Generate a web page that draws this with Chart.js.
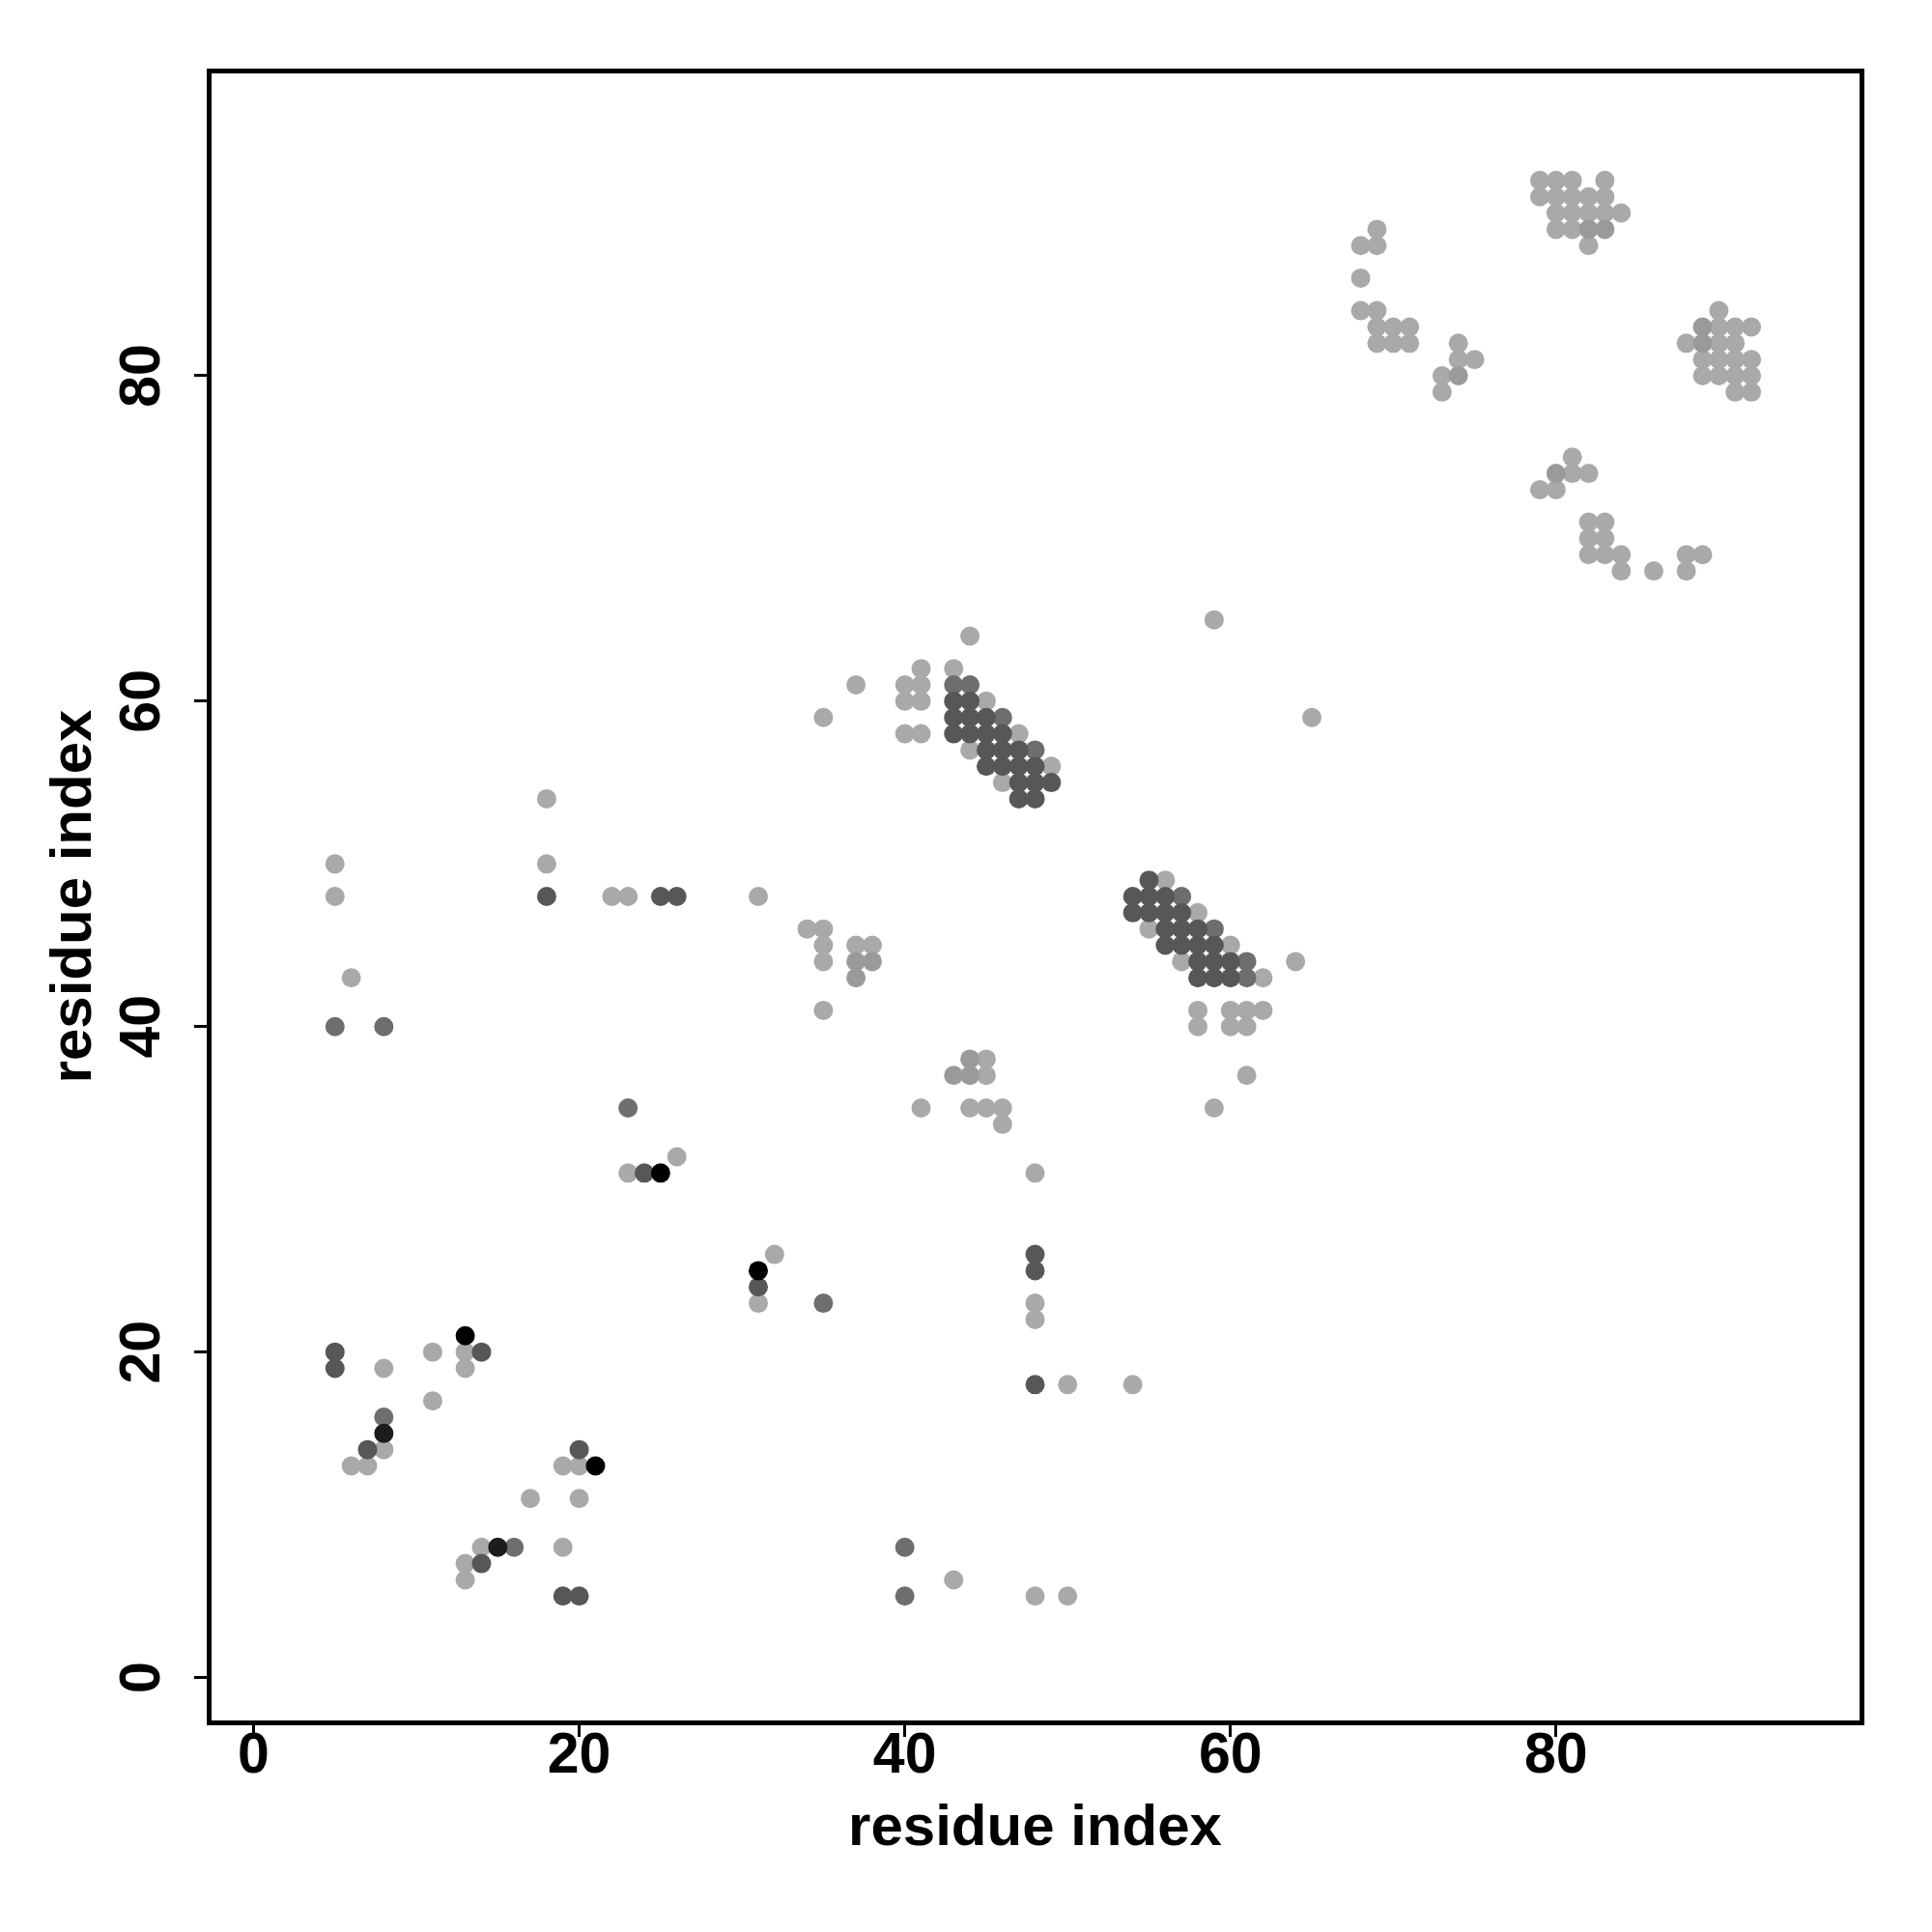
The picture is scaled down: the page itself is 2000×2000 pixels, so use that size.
<!DOCTYPE html>
<html>
<head>
<meta charset="utf-8">
<script src="https://cdn.jsdelivr.net/npm/chart.js@4"></script>
<style>
  body { margin: 0; background: #ffffff; }
  canvas { display: block; }
</style>
</head>
<body>
<canvas id="contactMap" width="2000" height="2000"></canvas>
<script>
// contact pairs [residue i, residue j], grouped by shade
const lightPoints = [
  [8,19],[19,8],[11,20],[20,11],[13,20],[20,13],[13,19],[19,13],[11,17],[17,11],[8,14],[14,8],
  [6,13],[13,6],[7,13],[13,7],
  [5,50],[50,5],[5,48],[48,5],[6,43],[43,6],[18,54],[54,18],[18,50],[50,18],[22,48],[48,22],
  [23,48],[48,23],[23,31],[31,23],[26,32],[32,26],[31,48],[48,31],
  [34,46],[46,34],[35,46],[46,35],[35,45],[45,35],[35,44],[44,35],[37,45],[45,37],[38,45],[45,38],
  [35,41],[41,35],
  [35,59],[59,35],[37,61],[61,37],[40,61],[61,40],[41,61],[61,41],[40,60],[60,40],[41,60],[60,41],
  [40,58],[58,40],[41,58],[58,41],[41,62],[62,41],[43,62],[62,43],[44,64],[64,44],[59,65],[65,59],
  [45,60],[60,45],[47,58],[58,47],[44,57],[57,44],[49,56],[56,49],[46,55],[55,46],
  [68,88],[88,68],[69,88],[88,69],[69,89],[89,69],[68,86],[86,68],[68,84],[84,68],[69,84],[84,69],
  [69,83],[83,69],[70,83],[83,70],[71,83],[83,71],[69,82],[82,69],[70,82],[82,70],[71,82],[82,71],
  [74,82],[82,74],[74,81],[81,74],[75,81],[81,75],[73,80],[80,73],[73,79],[79,73],
  [79,92],[92,79],[80,92],[92,80],[81,92],[92,81],[83,92],[92,83],
  [79,91],[91,79],[80,91],[91,80],[81,91],[91,81],[82,91],[91,82],[83,91],[91,83],
  [80,90],[90,80],[81,90],[90,81],[82,90],[90,82],[83,90],[90,83],[84,90],[90,84],
  [80,89],[89,80],[81,89],[89,81],[82,88],[88,82]
];
const midLightPoints = [
  [37,44],[44,37],[37,43],[43,37],[38,44],[44,38],[74,80],[80,74],[89,83],[83,89],[89,82],[82,89]
];
const mediumPoints = [
  [8,16],[16,8],[5,40],[40,5],[8,40],[40,8],[23,35],[35,23],
  [43,61],[61,43],[44,61],[61,44],[46,59],[59,46],[48,57],[57,48]
];
const darkPoints = [
  [5,20],[20,5],[5,19],[19,5],[7,14],[14,7],[14,20],[20,14],[18,48],[48,18],
  [25,48],[48,25],[26,48],[48,26],[24,31],[31,24],
  [43,60],[60,43],[44,60],[60,44],[43,59],[59,43],[44,59],[59,44],[45,59],[59,45],
  [43,58],[58,43],[44,58],[58,44],[45,58],[58,45],[46,58],[58,46],
  [45,57],[57,45],[46,57],[57,46],[47,57],[57,47],
  [45,56],[56,45],[46,56],[56,46],[47,56],[56,47],[48,56],[56,48],
  [47,55],[55,47],[48,55],[55,48],[49,55],[55,49],[47,54],[54,47],[48,54],[54,48]
];
const nearBlackPoints = [[8,15],[15,8]];
const blackPoints = [[13,21],[21,13],[25,31],[31,25]];

const tickValues = [0, 20, 40, 60, 80];
const axisMin = -2.76;
const axisMax = 98.76;

const fontFamily = '"Liberation Sans", Arial, Helvetica, sans-serif';

function toXY(pairs) {
  return pairs.map(p => ({ x: p[0], y: p[1] }));
}

function group(label, pairs, color) {
  return {
    label: label,
    data: toXY(pairs),
    backgroundColor: color,
    borderWidth: 0,
    pointRadius: 10,
    pointHoverRadius: 10
  };
}

const fixedTicks = scale => {
  scale.ticks = tickValues.map(v => ({ value: v }));
};

const frameAxis = (position, size) => ({
  type: 'linear',
  position: position,
  min: axisMin,
  max: axisMax,
  ticks: { display: false },
  grid: { display: false, lineWidth: 5 },
  border: { display: true, color: '#000', width: 5 },
  afterFit: scale => {
    if (scale.isHorizontal()) scale.height = size; else scale.width = size;
  }
});

const ctx = document.getElementById('contactMap').getContext('2d');
const contactChart = new Chart(ctx, {
  type: 'scatter',
  data: {
    datasets: [
      group('black', blackPoints, '#000000'),
      group('near black', nearBlackPoints, '#1c1c1c'),
      group('dark', darkPoints, '#575757'),
      group('medium', mediumPoints, '#6e6e6e'),
      group('mid light', midLightPoints, '#9a9a9a'),
      group('light', lightPoints, '#a9a9a9')
    ]
  },
  options: {
    responsive: false,
    animation: false,
    devicePixelRatio: 1,
    layout: { padding: 0 },
    plugins: {
      legend: { display: false },
      tooltip: { enabled: false }
    },
    scales: {
      x: {
        type: 'linear',
        position: 'bottom',
        min: axisMin,
        max: axisMax,
        afterBuildTicks: fixedTicks,
        afterFit: scale => { scale.height = 217; },
        grid: {
          drawOnChartArea: false,
          drawTicks: true,
          tickLength: 15,
          tickWidth: 3,
          lineWidth: 5,
          color: '#000'
        },
        border: { display: true, color: '#000', width: 5 },
        ticks: {
          color: '#000',
          maxRotation: 0,
          padding: -9,
          font: { family: fontFamily, size: 59, weight: 'bold', lineHeight: 1 }
        },
        title: {
          display: true,
          text: 'residue index',
          color: '#000',
          padding: { top: 0, bottom: 77 },
          font: { family: fontFamily, size: 60, weight: 'bold', lineHeight: 1 }
        }
      },
      y: {
        type: 'linear',
        position: 'left',
        min: axisMin,
        max: axisMax,
        afterBuildTicks: fixedTicks,
        afterFit: scale => { scale.width = 216; },
        grid: {
          drawOnChartArea: false,
          drawTicks: true,
          tickLength: 15,
          tickWidth: 3,
          lineWidth: 5,
          color: '#000'
        },
        border: { display: true, color: '#000', width: 5 },
        ticks: {
          color: '#000',
          minRotation: 90,
          maxRotation: 90,
          crossAlign: 'center',
          padding: 19,
          font: { family: fontFamily, size: 59, weight: 'bold', lineHeight: 1 }
        },
        title: {
          display: true,
          text: 'residue index',
          color: '#000',
          padding: { top: 47, bottom: 0 },
          font: { family: fontFamily, size: 60, weight: 'bold', lineHeight: 1 }
        }
      },
      x2: frameAxis('top', 73),
      y2: frameAxis('right', 73)
    }
  }
});
</script>
</body>
</html>
